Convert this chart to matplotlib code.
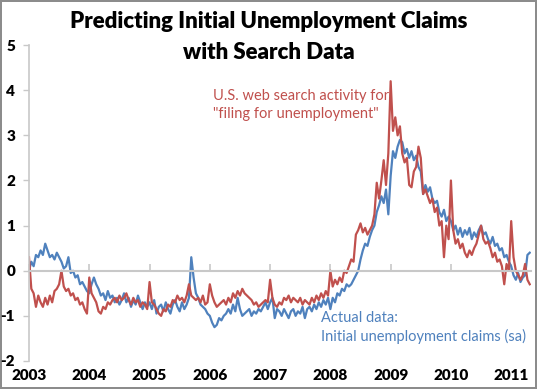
import numpy as np
import matplotlib.pyplot as plt

# normalized values, two points per month (26 per year), starting Jan 2003
actual_claims = [
    # 2003
    0.0, 0.2, 0.1, 0.35, 0.3, 0.45, 0.35, 0.6, 0.45, 0.3, 0.35, 0.25, 0.4,
    0.3, 0.2, 0.05, 0.1, 0.3, -0.05, 0.0, -0.15, -0.1, -0.3, -0.25, -0.35, -0.45,
    # 2004
    -0.5, -0.3, -0.15, -0.3, -0.4, -0.55, -0.5, -0.65, -0.45, -0.6, -0.55, -0.7, -0.6,
    -0.75, -0.65, -0.5, -0.7, -0.6, -0.8, -0.65, -0.75, -0.55, -0.7, -0.85, -0.7, -0.8,
    # 2005
    -0.7, -0.85, -0.65, -0.95, -0.8, -0.75, -0.9, -0.7, -0.85, -0.95, -0.75, -0.65, -0.8,
    -0.9, -0.7, -0.85, -0.75, -0.6, 0.3, -0.15, -0.5, -0.6, -0.75, -0.8, -0.85, -0.95,
    # 2006
    -1.0, -1.15, -1.25, -1.2, -1.05, -1.1, -1.0, -0.95, -0.85, -0.95, -0.75, -0.9, -0.6,
    -0.85, -1.0, -0.95, -0.9, -0.85, -1.0, -0.9, -0.95, -0.85, -0.9, -0.8, -0.7, -0.85,
    # 2007
    -0.7, -0.6, -1.05, -0.85, -0.9, -1.0, -0.85, -0.95, -1.05, -0.9, -0.85, -1.0, -0.9,
    -0.95, -0.8, -1.05, -0.85, -0.8, -0.9, -0.75, -0.85, -0.7, -0.8, -0.65, -0.75, -0.6,
    # 2008
    -0.85, -0.6, -0.7, -0.5, -0.55, -0.4, -0.45, -0.3, -0.35, -0.3, -0.2, -0.1, 0.0,
    0.25, 0.45, 0.6, 0.55, 0.75, 0.9, 1.0, 1.3, 1.45, 1.65, 1.5, 1.8, 1.25,
    # 2009
    2.1, 2.65, 2.5, 2.75, 2.9, 2.85, 2.6, 2.7, 2.5, 2.65, 2.45, 2.55, 2.3,
    2.2, 1.7, 1.9, 1.75, 1.85, 1.6, 1.5, 1.55, 1.3, 1.2, 1.35, 1.1, 1.2,
    # 2010
    1.1, 0.9, 1.0, 0.8, 0.95, 0.75, 0.9, 0.8, 0.95, 0.7, 0.85, 0.75, 0.9,
    1.0, 0.8, 0.85, 0.7, 0.6, 0.75, 0.55, 0.6, 0.45, 0.5, 0.3, 0.35, 0.2,
    # 2011
    0.1, -0.1, -0.2, -0.05, -0.25, -0.15, -0.1, 0.35, 0.4,
]

search_activity = [
    # 2003
    0.3, -0.4, -0.5, -0.8, -0.55, -0.7, -0.8, -0.6, -0.75, -0.55, -0.7, -0.45, -0.4,
    -0.3, 0.0, -0.35, -0.45, -0.4, -0.55, -0.5, -0.65, -0.6, -0.75, -0.7, -0.85, -0.95,
    # 2004
    -0.15, -0.5, -0.6, -0.7, -0.9, -0.95, -0.8, -0.85, -0.7, -0.75, -0.65, -0.6, -0.7,
    -0.55, -0.65, -0.6, -0.5, -0.65, -0.75, -0.6, -0.7, -0.65, -0.8, -0.7, -0.75, -0.85,
    # 2005
    -0.25, -0.7, -0.75, -0.85, -0.95, -1.0, -0.85, -0.9, -0.75, -0.8, -0.65, -0.7, -0.55,
    -0.65, -0.6, -0.7, -0.55, -0.3, -0.55, -0.6, -0.65, -0.6, -0.7, -0.55, -0.75, -0.7,
    # 2006
    -0.3, -0.55, -0.7, -0.8, -0.75, -0.7, -0.65, -0.75, -0.6, -0.7, -0.5, -0.6, -0.45,
    -0.55, -0.4, -0.5, -0.55, -0.6, -0.65, -0.75, -0.7, -0.8, -0.75, -0.7, -0.65, -0.7,
    # 2007
    -0.2, -0.6, -0.75, -0.8, -0.7, -0.75, -0.6, -0.65, -0.55, -0.7, -0.6, -0.65, -0.7,
    -0.6, -0.75, -0.65, -0.7, -0.75, -0.6, -0.7, -0.55, -0.65, -0.5, -0.6, -0.45, -0.55,
    # 2008
    0.0, -0.35, -0.2, -0.3, -0.15, -0.25, 0.0, -0.05, 0.1, 0.25, 0.2, 0.8, 0.9,
    1.05, 0.85, 0.95, 0.8, 0.9, 1.0, 1.25, 1.95, 1.6, 2.0, 2.45, 1.9, 2.6,
    # 2009
    4.2, 3.1, 3.4, 3.0, 3.2, 2.6, 2.4, 2.5, 1.9, 1.85, 2.2, 2.3, 2.75,
    2.5, 1.7, 1.8, 1.65, 1.5, 1.6, 1.3, 1.4, 1.0, 1.1, 0.3, 1.0, 0.7,
    # 2010
    2.0, 0.9, 0.6, 0.7, 0.5, 0.6, 0.4, 0.3, 0.45, 0.35, 0.5, 0.6, 0.8,
    1.0, 0.7, 0.6, 0.65, 0.5, 0.3, 0.4, 0.2, 0.25, 0.1, -0.3, 0.15, 0.0,
    # 2011
    1.1, 0.3, 0.0, -0.1, -0.2, -0.1, 0.15, -0.2, -0.3,
]

years = list(range(2003, 2012))
yticks = list(range(-2, 6))

x_actual = 2003 + np.arange(len(actual_claims)) / 26
x_search = 2003 + np.arange(len(search_activity)) / 26

RED = '#c0504d'
BLUE = '#4f81bd'
GRID = '#c8c8c8'

plt.rcParams['font.family'] = ['Lato', 'DejaVu Sans']

fig = plt.figure(figsize=(5.37, 3.89), dpi=100, edgecolor='#8c8c8c', linewidth=1.5)
ax = fig.add_axes([0.054, 0.072, 0.935, 0.812])

ax.plot(x_actual, actual_claims, color=BLUE, lw=1.6)
ax.plot(x_search, search_activity, color=RED, lw=1.6)

ax.set_xlim(2003, 2011.33)
ax.set_ylim(-2, 5)

# horizontal axis sits on zero, labels stay at the bottom
for s in ['top', 'right']:
    ax.spines[s].set_visible(False)
ax.spines['bottom'].set_position(('data', 0))
ax.spines['bottom'].set_color(GRID)
ax.spines['bottom'].set_linewidth(1.5)
ax.spines['left'].set_color(GRID)
ax.spines['left'].set_linewidth(1.2)
ax.set_xticks(years)
ax.tick_params(axis='x', direction='in', length=5, color=GRID, width=1.2,
               labelbottom=False)
ax.set_yticks(yticks)
ax.set_yticklabels([str(v) for v in yticks], fontweight='heavy', fontsize=11)
ax.tick_params(axis='y', direction='out', length=4, color=GRID, width=1, pad=6)

sec = ax.secondary_xaxis('bottom')
sec.set_xticks(years)
sec.set_xticklabels([str(y) for y in years], fontweight='heavy', fontsize=11)
sec.tick_params(length=0, pad=6)
sec.spines['bottom'].set_visible(False)

fig.text(0.5, 0.944, 'Predicting Initial Unemployment Claims', ha='center', va='center',
         fontsize=16, fontweight='heavy')
fig.text(0.5, 0.866, 'with Search Data', ha='center', va='center',
         fontsize=16, fontweight='heavy')

ax.text(2006.05, 3.67, 'U.S. web search activity for\n"filing for unemployment"',
        color=RED, fontsize=10.5, va='center', ha='left', linespacing=1.3)
ax.text(2007.85, -1.26, 'Actual data:\nInitial unemployment claims (sa)',
        color=BLUE, fontsize=10.5, va='center', ha='left', linespacing=1.3)

fig.savefig('out.png', dpi=100)
